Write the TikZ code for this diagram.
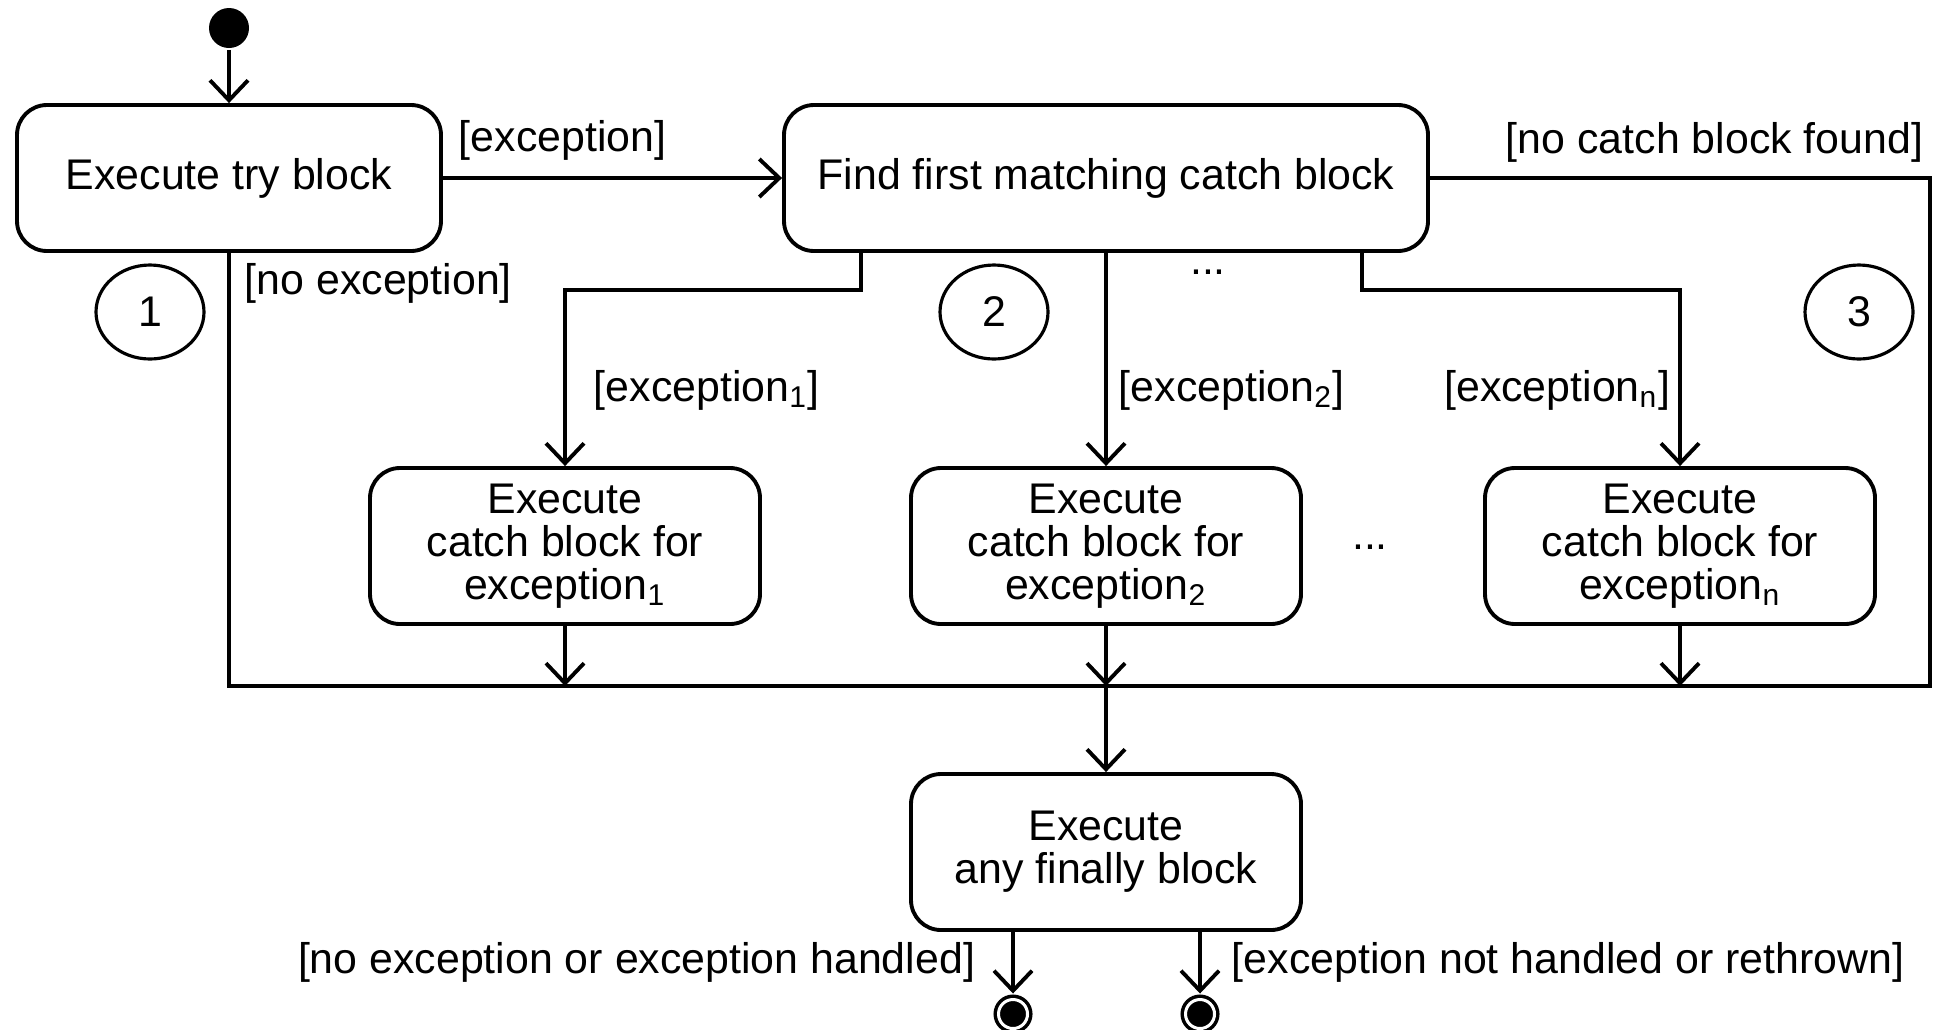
\documentclass[tikz,border=0pt]{standalone}
\usepackage{fontspec}
\setmainfont{Liberation Sans}
\usetikzlibrary{arrows.meta,shapes.geometric}

\begin{document}
\begin{tikzpicture}[x=0.1mm, y=0.1mm,
    font=\fontsize{12.2}{12.2}\selectfont,
    line width=1.1pt,
    arr/.style={-{Straight Barb[length=2mm,width=3.8mm]}},
    act/.style={rectangle, rounded corners=3mm, draw, align=center, inner sep=1mm},
    lbl/.style={inner sep=0pt},
    num/.style={ellipse, draw, line width=0.9pt, minimum width=10.8mm, minimum height=9.4mm, inner sep=0pt},
    final/.style={circle, draw, fill=black, double, double distance=0.3mm, line width=1pt,
                  minimum size=2.9mm, inner sep=0pt, outer sep=0.6mm}]
    \useasboundingbox (0,0) rectangle (1936,-1029);
    \def\boxH{14.6mm}
    \def\catchW{39mm}
    \def\catchH{15.6mm}

    % top row
    \node[circle, fill=black, minimum size=4mm, inner sep=0pt] (start) at (229,-28) {};
    \node[act, minimum width=42.4mm, minimum height=\boxH] (try) at (229,-178) {Execute try block};
    \node[act, minimum width=64.4mm, minimum height=\boxH] (find) at (1106,-178) {Find first matching catch block};

    % catch blocks
    \foreach \i/\xpos in {1/565, 2/1106, n/1680} {
      \node[act, minimum width=\catchW, minimum height=\catchH] (c\i) at (\xpos,-546)
        {Execute\\catch block for\\exception\textsubscript{\i}};
    }

    \node[act, minimum width=\catchW, minimum height=\catchH] (fin) at (1106,-852) {Execute\\any finally block};
    \node[final] (end1) at (1013,-1014) {};
    \node[final] (end2) at (1200,-1014) {};

    \coordinate (join) at (1106,-686);
    \coordinate (barR) at (1930,-686);

    % connectors
    \draw[arr] (start) -- (try);
    \draw[arr] (try) -- (find);
    \draw (try.south) |- (barR) |- (find.east);
    \draw[arr] ([xshift=-24.5mm]find.south) -- ++(0,-3.7mm) -| (c1);
    \draw[arr] (find) -- (c2);
    \draw[arr] ([xshift=25.6mm]find.south) -- ++(0,-3.7mm) -| (cn);
    \foreach \i in {1,2,n} {
      \draw[arr] (c\i) -- (c\i |- join);
    }
    \draw[arr] (join) -- (fin);
    \draw[arr] (fin.south -| end1) -- (end1);
    \draw[arr] (fin.south -| end2) -- (end2);

    % guards
    \node[lbl, anchor=west] (gexc) at (457,-140) {[exception]};
    \node[lbl, anchor=west] (gnoexc) at (243,-283) {[no exception]};
    \node[lbl, anchor=east] (gnocatch) at (1925,-142) {[no catch block found]};
    \node[lbl, anchor=west] (gexc1) at (592,-390) {[exception\textsubscript{1}]};
    \node[lbl, anchor=west] (gexc2) at (1117,-390) {[exception\textsubscript{2}]};
    \node[lbl, anchor=east] (gexcn) at (1672,-390) {[exception\textsubscript{n}]};
    \node[lbl, anchor=east] (ghandled) at (977,-962) {[no exception or exception handled]};
    \node[lbl, anchor=west] (grethrown) at (1230,-962) {[exception not handled or rethrown]};

    % markers
    \node[num] (n1) at (150,-312) {1};
    \node[num] (n2) at (994,-312) {2};
    \node[num] (n3) at (1859,-312) {3};
    \node[lbl] (dotsA) at (1208,-272) {...};
    \node[lbl] (dotsB) at (1370,-547) {...};
\end{tikzpicture}
\end{document}
